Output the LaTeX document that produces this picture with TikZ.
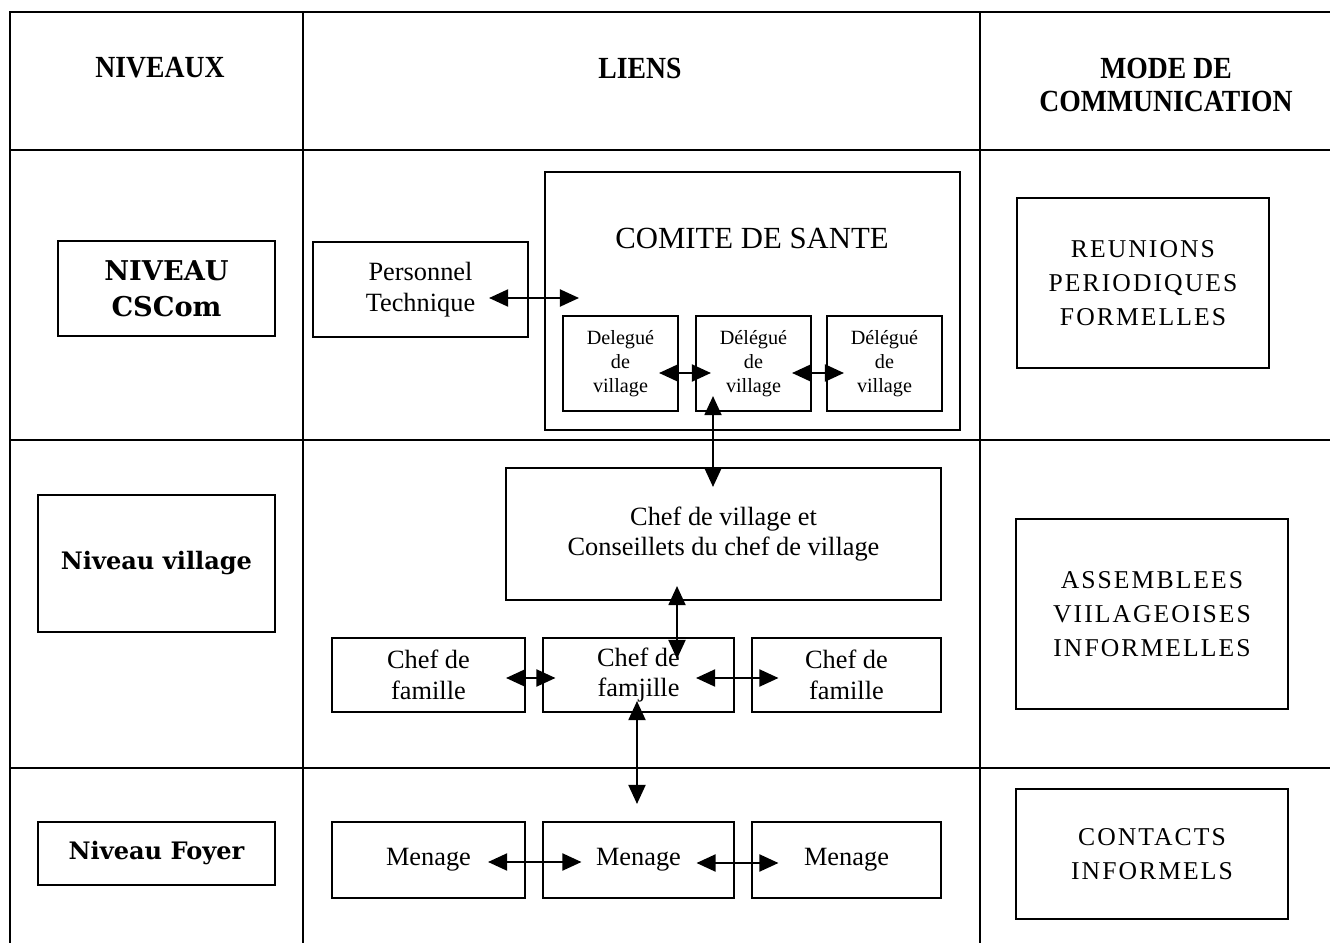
\documentclass[tikz,border=0pt]{standalone}
\usepackage{fontspec}
\setmainfont{Liberation Serif}
\newfontfamily\niveaufont{DejaVu Serif}
\newfontfamily\modefont[LetterSpace=8]{Liberation Serif}
\newfontfamily\titrefont[FakeStretch=0.9]{Liberation Serif}
\usepackage{tikz}
\usetikzlibrary{arrows.meta}

\tikzset{
  grille/.style={line width=1.1pt},
  boite/.style={draw, line width=1.2pt, inner sep=0pt, align=center,
    font=\fontsize{15}{17.5}\selectfont},
  petite/.style={boite, minimum width=2.3cm, minimum height=1.9cm,
    font=\fontsize{11.5}{13.6}\selectfont},
  niveau/.style={boite, font=\niveaufont\bfseries\fontsize{13.7}{20.4}\selectfont},
  mode/.style={boite, font=\modefont\fontsize{14.6}{19.3}\selectfont},
  entete/.style={align=center, font=\titrefont\bfseries\fontsize{17.5}{18.7}\selectfont},
  lien/.style={line width=1.1pt,
    arrows={Triangle[length=0.38cm,width=0.34cm]-Triangle[length=0.38cm,width=0.34cm]}},
}

\begin{document}
\begin{tikzpicture}[x=0.02cm,y=-0.02cm]
\useasboundingbox (0,0) rectangle (1330,943);

% tableau
\draw[grille] (10,943) -- (10,12) -- (1330,12);
\draw[grille] (10,150) -- (1330,150);
\draw[grille] (10,440) -- (1330,440);
\draw[grille] (10,768) -- (1330,768);
\draw[grille] (303,12) -- (303,943);
\draw[grille] (980,12) -- (980,943);

% en-tetes
\node[entete] (niv) at (160,68) {NIVEAUX};
\node[entete] (liens) at (640,68) {LIENS};
\node[entete] (mode) at (1166,85) {MODE DE\\COMMUNICATION};

% niveaux
\node[niveau, minimum width=4.34cm, minimum height=1.9cm, font=\niveaufont\bfseries\fontsize{15.5}{20.4}\selectfont] (nivcs) at (166.5,288.5) {NIVEAU\\CSCom};
\node[niveau, minimum width=4.74cm, minimum height=2.74cm] (nivvil) at (156.5,563.5) {Niveau village};
\node[niveau, minimum width=4.74cm, minimum height=1.26cm] (nivfoy) at (156.5,853.5) {Niveau Foyer};

% liens
\node[boite, minimum width=4.3cm, minimum height=1.9cm] (pers) at (420.5,289.5) {Personnel\\Technique};
\node[boite, minimum width=8.3cm, minimum height=5.16cm] (comite) at (752.5,301) {};
\node[font=\fontsize{17.5}{20}\selectfont] (titre) at (752,238) {COMITE DE SANTE};
\node[petite] (del1) at (620.5,363.5) {Delegué\\de\\village};
\node[petite] (del2) at (753.5,363.5) {Délégué\\de\\village};
\node[petite] (del3) at (884.5,363.5) {Délégué\\de\\village};
\node[boite, minimum width=8.7cm, minimum height=2.64cm] (chefvil) at (723.5,534) {Chef de village et\\Conseillets du chef de village};
\node[boite, minimum width=3.86cm, minimum height=1.48cm] (fam1) at (428.5,675) {Chef de\\famille};
\node[boite, minimum width=3.82cm, minimum height=1.48cm] (fam2) at (638.5,675) {Chef de\\famjille};
\node[boite, minimum width=3.78cm, minimum height=1.48cm] (fam3) at (846.5,675) {Chef de\\famille};
\node[boite, minimum width=3.86cm, minimum height=1.52cm] (men1) at (428.5,860) {Menage};
\node[boite, minimum width=3.82cm, minimum height=1.52cm] (men2) at (638.5,860) {Menage};
\node[boite, minimum width=3.78cm, minimum height=1.52cm] (men3) at (846.5,860) {Menage};

% mode de communication
\node[mode, minimum width=5.04cm, minimum height=3.4cm] (reun) at (1143,283) {REUNIONS\\PERIODIQUES\\FORMELLES};
\node[mode, minimum width=5.44cm, minimum height=3.8cm] (assem) at (1152,614) {ASSEMBLEES\\VIILAGEOISES\\INFORMELLES};
\node[mode, minimum width=5.44cm, minimum height=2.6cm] (contact) at (1152,854) {CONTACTS\\INFORMELS};

% fleches
\draw[lien] ([xshift=-0.8cm,yshift=-0.17cm]pers.east) -- ([xshift=0.7cm,yshift=0.06cm]comite.west);
\draw[lien] ([xshift=-0.4cm,yshift=-0.19cm]del1.east) -- ([xshift=0.32cm,yshift=-0.19cm]del2.west);
\draw[lien] ([xshift=-0.4cm,yshift=-0.19cm]del2.east) -- ([xshift=0.36cm,yshift=-0.19cm]del3.west);
\draw[lien] ([xshift=-0.81cm,yshift=0.32cm]del2.south) -- ([xshift=-0.21cm,yshift=-0.4cm]chefvil.north);
\draw[lien] ([xshift=-0.93cm,yshift=0.3cm]chefvil.south) -- ([xshift=0.77cm,yshift=-0.44cm]fam2.north);
\draw[lien] ([xshift=-0.4cm,yshift=-0.06cm]fam1.east) -- ([xshift=0.27cm,yshift=-0.06cm]fam2.west);
\draw[lien] ([xshift=-0.78cm,yshift=-0.06cm]fam2.east) -- ([xshift=0.55cm,yshift=-0.06cm]fam3.west);
\draw[lien] ([xshift=-0.03cm,yshift=0.24cm]fam2.south) -- ([xshift=-0.03cm,yshift=0.34cm]men2.north);
\draw[lien] ([xshift=-0.76cm,yshift=-0.04cm]men1.east) -- ([xshift=0.79cm,yshift=-0.04cm]men2.west);
\draw[lien] ([xshift=-0.77cm,yshift=-0.06cm]men2.east) -- ([xshift=0.55cm,yshift=-0.06cm]men3.west);
\end{tikzpicture}
\end{document}
